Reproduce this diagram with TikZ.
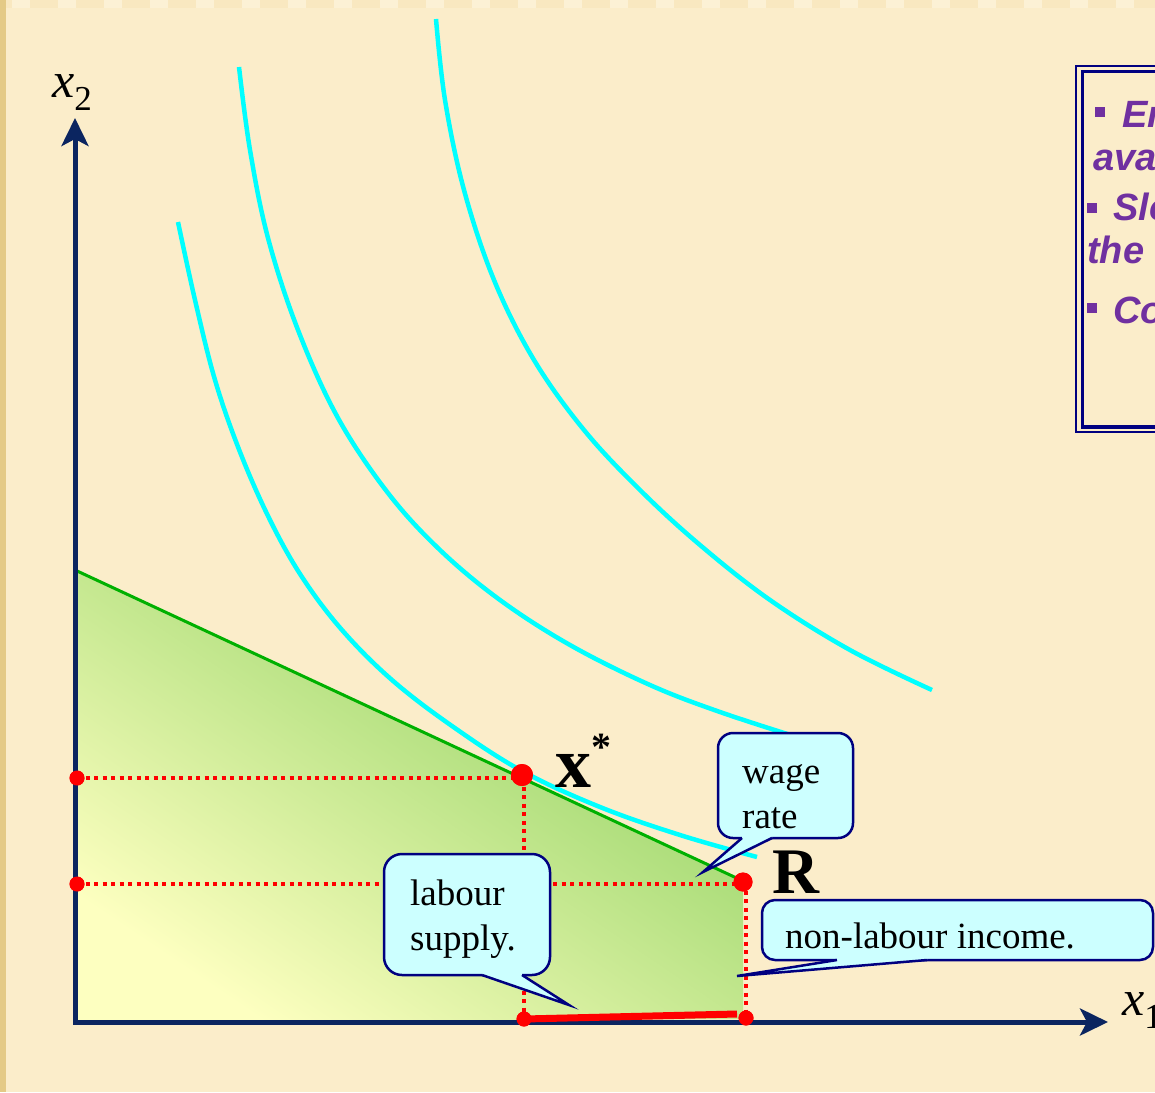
\documentclass[tikz,border=0pt]{standalone}
\usepackage{fontspec}
\setmainfont{Liberation Serif}
\newfontfamily\notefont{Liberation Sans}
\usetikzlibrary{arrows.meta,calc}

\definecolor{paper}{HTML}{FBEDCA}
\definecolor{edgetan}{HTML}{E4CA86}
\definecolor{topband}{HTML}{F9E8C0}
\definecolor{axisblue}{HTML}{0B2560}
\definecolor{budgetgreen}{HTML}{00B000}
\definecolor{icyan}{HTML}{00FFFF}
\definecolor{bubblefill}{HTML}{CCFFFF}
\definecolor{bubbleline}{HTML}{000080}
\definecolor{notepurple}{HTML}{7030A0}
\definecolor{dotred}{HTML}{FF0000}
\definecolor{fillyellow}{HTML}{FDFFC0}
\definecolor{fillgreen}{HTML}{8CD05F}

\tikzset{
  axistip/.tip={Stealth[length=28pt,width=27pt,inset=7pt]},
  axisline/.style={line width=5pt, draw=axisblue, line join=miter},
  budget/.style={line width=3pt, draw=budgetgreen},
  indiff/.style={line width=4.5pt, draw=icyan},
  guide/.style={line width=3.2pt, draw=dotred, dash pattern=on 4pt off 4.5pt},
  reddot/.style={circle, fill=dotred, inner sep=0pt, minimum size=#1},
  bubble/.style={line width=2.5pt, draw=bubbleline, fill=bubblefill, rounded corners=#1},
  bubbleside/.style={line width=2.5pt, draw=bubbleline, line join=miter},
  bubbletext/.style={font=\fontsize{37}{45}\selectfont, inner sep=0pt, anchor=base west},
  notetext/.style={font=\notefont\bfseries\itshape\fontsize{38}{44}\selectfont, text=notepurple, inner sep=0pt, anchor=base west},
}

\begin{document}
\begin{tikzpicture}[x=1pt,y=-1pt]
\useasboundingbox (0,0) rectangle (1155,1092);
\clip (0,0) rectangle (1155,1092);

% paper background with the textured top and left margins
\fill[paper] (0,0) rectangle (1155,1092);
\fill[topband] (0,0) rectangle (1155,8);
\foreach \i in {0,...,25} \fill[paper!80!white] (\i*46+12,0) rectangle +(18,8);
\fill[edgetan] (0,0) rectangle (6,1092);

% key points
\coordinate (O) at (75,1022);
\coordinate (Ytip) at (75,118);
\coordinate (Xtip) at (1108,1022);
\coordinate (Yint) at (75,570);
\coordinate (Rc) at (743,881);
\coordinate (Rfoot) at (743,1019);
\coordinate (SupEnd) at (737,1014);

% budget set
\shade[top color=fillgreen, bottom color=fillyellow, shading angle=-34]
  (Yint) -- (Rc) -- (Rfoot) -- (O) -- cycle;
\draw[budget] (Yint) -- (Rc);

% points on the axes and at the optimum / endowment
\node[reddot=22pt] (X)  at (522,775) {};
\node[reddot=19pt] (R)  at (743,882) {};
\node[reddot=15pt] (LX) at (77,778)  {};
\node[reddot=15pt] (LR) at (77,884)  {};
\node[reddot=15pt] (BX) at (524,1019) {};
\node[reddot=15pt] (BR) at (746,1018) {};

% dotted guide lines
\draw[guide] (LX.center) -- (LX.center -| X.center);
\draw[guide] (LX.center -| BX.center) -- (BX.center);
\draw[guide] (LR.center) -- (LR.center -| R.center);
\draw[guide] (R.center -| BR.center) -- (BR.center);

% axes
\draw[axisline, {axistip}-{axistip}] (Ytip) -- (O) -- (Xtip);

% labour supply segment
\draw[line width=7pt, dotred] (BX.center) -- (SupEnd);

% indifference curves
\draw[indiff] plot[smooth, tension=0.6] coordinates {
  (178,222) (195,300) (215,380) (240,452) (270,520) (302,577) (342,630)
  (392,680) (452,726) (522,771) (600,807) (680,835) (757,857)};
\draw[indiff] plot[smooth, tension=0.6] coordinates {
  (239,67) (250,150) (268,238) (298,330) (338,418) (388,493) (440,550)
  (500,600) (570,645) (650,685) (720,712) (800,738)};
\draw[indiff] plot[smooth, tension=0.6] coordinates {
  (436,19) (445,100) (464,190) (494,280) (534,360) (584,430) (640,490)
  (700,545) (770,600) (850,650) (932,690)};

% redraw the dots above the curves
\fill[dotred] (X) circle (11pt);
\fill[dotred] (R) circle (9.5pt);
\fill[dotred] (LX) circle (7.5pt);
\fill[dotred] (LR) circle (7.5pt);
\fill[dotred] (BX) circle (7.5pt);
\fill[dotred] (BR) circle (7.5pt);

% labels
\node[anchor=base west, inner sep=0pt, font=\bfseries\fontsize{72}{72}\selectfont] (xstar) at (555,787)
  {x\raisebox{27pt}{\fontsize{40}{40}\selectfont *}};
\node[anchor=base west, inner sep=0pt, font=\bfseries\fontsize{65}{65}\selectfont] (Rlab) at (772,893) {R};
\node[anchor=base west, inner sep=0pt, font=\fontsize{50}{50}\selectfont] (x2lab) at (52,97)
  {\textit{x}\raisebox{-13pt}{\fontsize{35}{35}\selectfont 2}};
\node[anchor=base west, inner sep=0pt, font=\fontsize{50}{50}\selectfont] (x1lab) at (1122,1015)
  {\textit{x}\raisebox{-13pt}{\fontsize{35}{35}\selectfont 1}};

% callout: wage rate
\coordinate (wageTip) at (703,872);
\draw[bubble=15pt] (718,733) rectangle (853,838);
\fill[bubblefill] (742,835) -- (742,838) -- (wageTip) -- (772,838) -- (772,835) -- cycle;
\draw[bubbleside] (742,838) -- (wageTip) -- (772,838);
\node[bubbletext] (wage1) at (742,783) {wage};
\node[bubbletext] (wage2) at (742,828) {rate};

% callout: labour supply
\coordinate (supplyTip) at (569,1005);
\draw[bubble=18pt] (384,854) rectangle (550,975);
\fill[bubblefill] (482,972) -- (482,975) -- (supplyTip) -- (522,975) -- (522,972) -- cycle;
\draw[bubbleside] (482,975) -- (supplyTip) -- (522,975);
\node[bubbletext] (supply1) at (410,905) {labour};
\node[bubbletext] (supply2) at (410,950) {supply.};

% callout: non-labour income
\coordinate (incomeTip) at (737,976);
\draw[bubble=13pt] (762,900) rectangle (1153,960);
\fill[bubblefill] (837,957) -- (837,960) -- (incomeTip) -- (927,960) -- (927,957) -- cycle;
\draw[bubbleside] (837,960) -- (incomeTip) -- (927,960);
\node[bubbletext] (income) at (785,948) {non-labour income.};

% notes panel with double frame
\draw[bubbleline, line width=2.5pt] (1076,66) rectangle (1250,432);
\draw[bubbleline, line width=3.5pt] (1082.5,71.5) rectangle (1250,427);
\node[notetext] (note1) at (1095,127) {{\upshape\rule[10pt]{10pt}{10pt}}\hspace{17pt}Endowment point};
\node[notetext] (note2) at (1093,170) {available};
\node[notetext] (note3) at (1087,220) {{\upshape\rule[7pt]{10pt}{10pt}}\hspace{16pt}Slope of budget set is};
\node[notetext] (note4) at (1087,263) {the wage rate};
\node[notetext] (note5) at (1087,323) {{\upshape\rule[10pt]{10pt}{10pt}}\hspace{16pt}Consumer's optimum};
\end{tikzpicture}
\end{document}
